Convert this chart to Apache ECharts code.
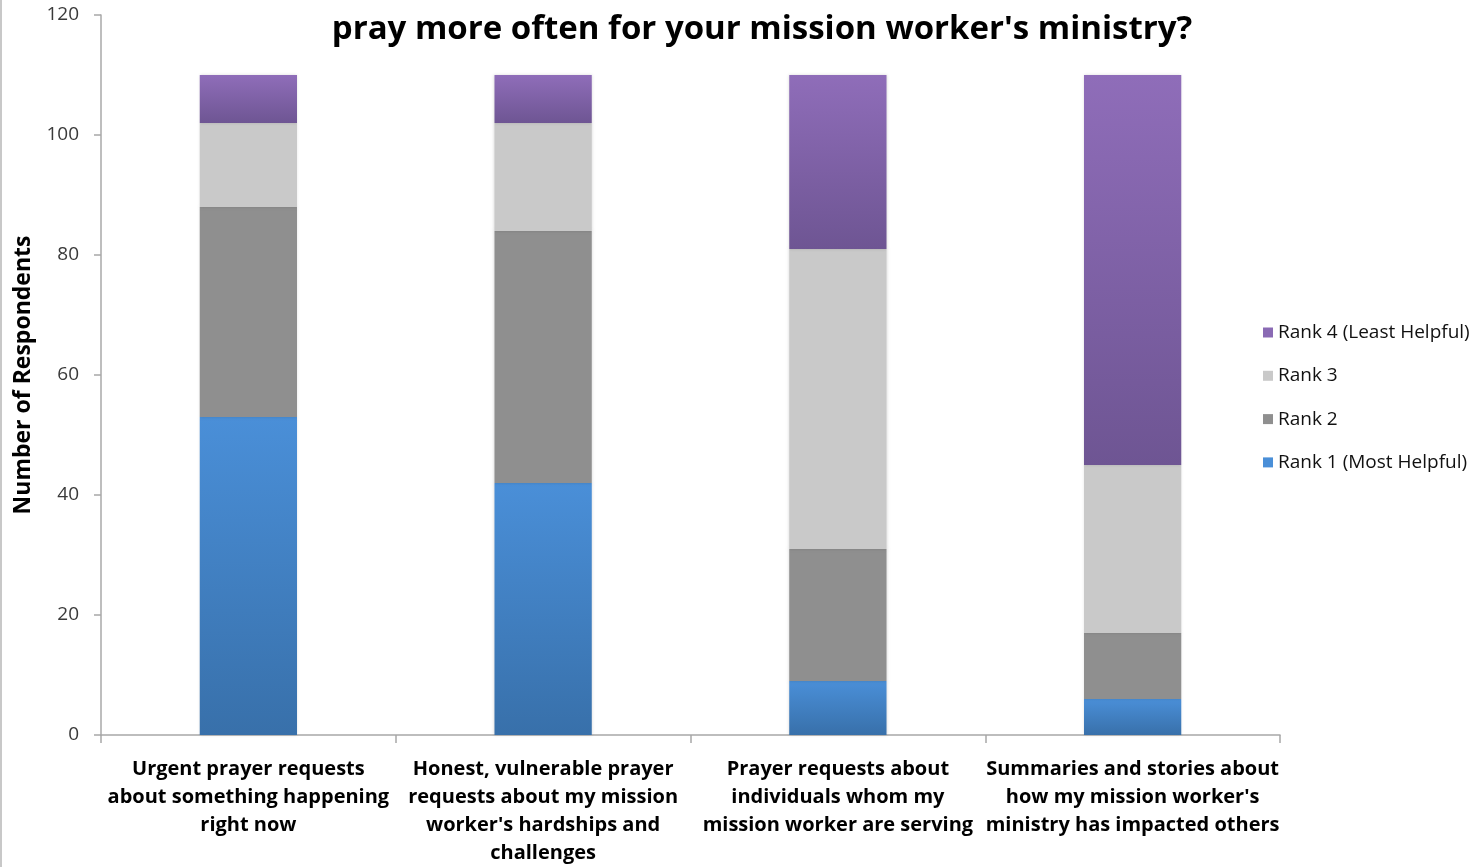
<!DOCTYPE html>
<html>
<head>
<meta charset="utf-8">
<script src="https://cdn.jsdelivr.net/npm/echarts@6/dist/echarts.min.js"></script>
<style>
  html, body { margin: 0; padding: 0; background: #fff; }
  #chart { width: 1480px; height: 867px; box-sizing: border-box; border-left: 2px solid #c8c8c8; }
</style>
</head>
<body>
<div id="chart"></div>
<script>
// Survey categories (x axis)
const categories = [
  'Urgent prayer requests\nabout something happening\nright now',
  'Honest, vulnerable prayer\nrequests about my mission\nworker\'s hardships and\nchallenges',
  'Prayer requests about\nindividuals whom my\nmission worker are serving',
  'Summaries and stories about\nhow my mission worker\'s\nministry has impacted others'
];

// Respondent counts per rank
const rank1 = [53, 42, 9, 6];
const rank2 = [35, 42, 22, 11];
const rank3 = [14, 18, 50, 28];
const rank4 = [8, 8, 29, 65];

const seriesNames = ['Rank 1 (Most Helpful)', 'Rank 2', 'Rank 3', 'Rank 4 (Least Helpful)'];
const yTicks = { min: 0, max: 120, interval: 20 };

const FONT = '"Open Sans", Lato, sans-serif';

function grad(top, bottom) {
  return new echarts.graphic.LinearGradient(0, 0, 0, 1, [
    { offset: 0, color: top },
    { offset: 1, color: bottom }
  ]);
}

const styles = [
  { color: grad('#4a8fd8', '#3870aa'), legend: '#4a8fd8' },
  { color: '#8f8f8f', legend: '#8f8f8f' },
  { color: '#c9c9c9', legend: '#c9c9c9' },
  { color: grad('#8f6db9', '#6e5593'), legend: '#8a6ab4' }
];

const values = [rank1, rank2, rank3, rank4];

const chart = echarts.init(document.getElementById('chart'));
chart.setOption({
  animation: false,
  title: {
    text: 'pray more often for your mission worker\'s ministry?',
    left: 755,
    textAlign: 'center',
    top: 8,
    textStyle: { fontFamily: FONT, fontWeight: 'bold', fontSize: 33, color: '#000' }
  },
  grid: { left: 99, right: 200, top: 15, bottom: 132 },
  legend: {
    orient: 'vertical',
    left: 1256,
    top: 318,
    itemGap: 24.3,
    itemWidth: 10,
    itemHeight: 10,
    itemTextGap: 6,
    icon: 'rect',
    data: seriesNames.slice().reverse().map(n => {
      const i = seriesNames.indexOf(n);
      return { name: n, itemStyle: { color: styles[i].legend } };
    }),
    textStyle: { fontFamily: FONT, fontSize: 19, color: '#111' }
  },
  xAxis: {
    type: 'category',
    data: categories,
    axisLine: { lineStyle: { color: '#a8a8a8', width: 1.5 } },
    axisTick: { show: true, length: 8, lineStyle: { color: '#a8a8a8', width: 1.5 } },
    axisLabel: {
      interval: 0,
      margin: 20,
      fontFamily: FONT,
      fontWeight: 'bold',
      fontSize: 20,
      lineHeight: 28,
      color: '#000'
    }
  },
  yAxis: {
    type: 'value',
    min: yTicks.min,
    max: yTicks.max,
    interval: yTicks.interval,
    name: 'Number of Respondents',
    nameLocation: 'middle',
    nameGap: 66,
    nameTextStyle: { fontFamily: FONT, fontWeight: 'bold', fontSize: 23, color: '#000' },
    axisLine: { show: true, lineStyle: { color: '#a8a8a8', width: 1.5 } },
    axisTick: { show: true, length: 7, lineStyle: { color: '#a8a8a8', width: 1.5 } },
    splitLine: { show: false },
    axisLabel: { fontFamily: FONT, fontSize: 19, color: '#3a3a3a', margin: 22 }
  },
  series: values.map((v, i) => ({
    name: seriesNames[i],
    type: 'bar',
    stack: 'total',
    barWidth: '33%',
    data: v,
    itemStyle: {
      color: styles[i].color,
      shadowBlur: 3,
      shadowColor: 'rgba(0,0,0,0.15)'
    }
  }))
});
</script>
</body>
</html>
